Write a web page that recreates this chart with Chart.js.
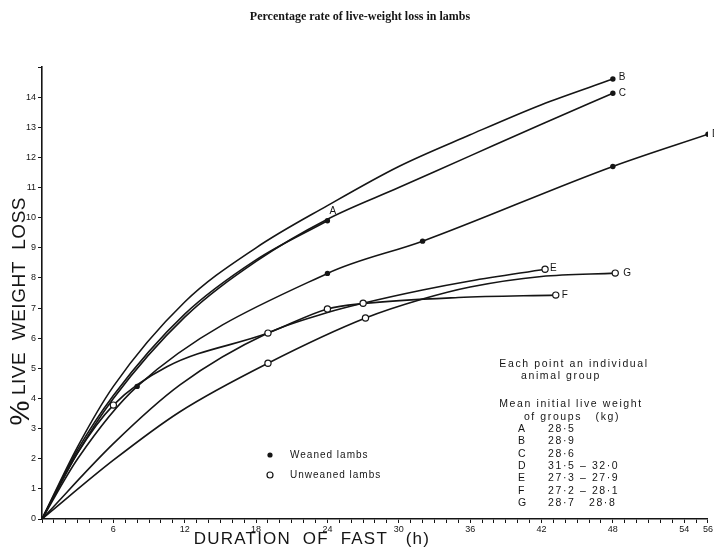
<!DOCTYPE html>
<html><head><meta charset="utf-8">
<script src="https://cdn.jsdelivr.net/npm/chart.js@4/dist/chart.umd.min.js"></script>
<style>html,body{margin:0;padding:0;background:#fff;}#wrap{width:714px;height:548px;}</style>
</head><body><div id="wrap"><canvas id="c" width="714" height="548"></canvas></div>
<script>
// ---- data (hours of fast, % live-weight loss) ----
const titleText = 'Percentage rate of live-weight loss in lambs';
const xTitle = 'DURATION  OF  FAST   (h)';
const yTitle = 'LIVE  WEIGHT  LOSS';
const xTickLabels = [6,12,18,24,30,36,42,48,54,56];
const yTickLabels = [0,1,2,3,4,5,6,7,8,9,10,11,12,13,14];
const groups = ['A','B','C','D','E','F','G'];

// fitted curves
const curveA = [[0,0],[3,2.3],[6,4.1],[12,6.8],[18,8.6],[24,9.9]];
const curveB = [[0,0],[3,2.4],[6,4.4],[12,7.2],[18,9.0],[24,10.4],[30,11.7],[36,12.75],[42,13.75],[48,14.6]];
const curveC = [[0,0],[3,2.2],[6,4.0],[12,6.7],[18,8.55],[24,9.95],[30,11.0],[36,12.05],[42,13.1],[48,14.13]];
const curveD = [[0,0],[3,2.0],[8,4.4],[24,8.15],[32,9.22],[48,11.7],[56,12.77]];
const curveE = [[0,0],[6,2.5],[11.6,4.45],[19,6.17],[24,6.85],[27,7.16],[32,7.6],[36,7.9],[42.3,8.29]];
const curveF = [[0,0],[3,2.2],[6,3.78],[10.5,5.05],[19,6.17],[24,6.97],[27,7.15],[35,7.35],[43.2,7.43]];
const curveG = [[0,0],[6,1.95],[11.6,3.56],[19,5.17],[27.2,6.67],[32,7.3],[36,7.7],[42,8.05],[48.2,8.16]];

// observed points
const weanedPoints = [[24,9.9],[48,14.6],[48,14.13],[8,4.4],[24,8.15],[32,9.22],[48,11.7],[56,12.77]];
const unweanedPoints = [[6,3.78],[19,6.17],[19,5.17],[24,6.97],[27,7.16],[27.2,6.67],[42.3,8.29],[43.2,7.43],[48.2,8.16]];
// where each group letter is attached (curve end points)
const groupEnds = [[24,9.9],[48,14.6],[48,14.13],[56,12.77],[42.3,8.29],[43.2,7.43],[48.2,8.16]];

const weightRows = ['28·5','28·9','28·6','31·5 – 32·0','27·3 – 27·9','27·2 – 28·1','28·7   28·8'];
const noteLines = ['Each point an individual','animal group','Mean initial live weight','of groups   (kg)'];
const legendLabels = ['Weaned lambs','Unweaned lambs'];

// ---- chart ----
const INK = '#151515';
const toXY = arr => arr.map(p => ({x:p[0], y:p[1]}));
const curves = [curveA,curveB,curveC,curveD,curveE,curveF,curveG];
const letterOffsets = [[2,-9],[6,-2],[6,0],[4,0],[5,-1],[6,0],[8,0]];

const datasets = [
  {data: toXY(weanedPoints), showLine:false, pointRadius:2.7, pointBackgroundColor:INK, pointBorderColor:INK, pointBorderWidth:0, order:0},
  {data: toXY(unweanedPoints), showLine:false, pointRadius:3.1, pointBackgroundColor:'#fff', pointBorderColor:INK, pointBorderWidth:1.2, order:0}
];
curves.forEach(c => datasets.push({data: toXY(c), borderColor:INK, borderWidth:1.6, pointRadius:0, fill:false, cubicInterpolationMode:'monotone', order:1}));

const textPlugin = {
  id:'texts',
  afterDraw(chart){
    const ctx = chart.ctx, xs = chart.scales.x, ys = chart.scales.y;
    ctx.save();
    ctx.fillStyle = INK; ctx.strokeStyle = INK;
    // title
    ctx.font = 'bold 12px "Liberation Serif"';
    ctx.textAlign = 'center'; ctx.textBaseline = 'middle';
    ctx.fillText(titleText, 360, 17);
    // x title
    ctx.font = '17px "Liberation Sans"';
    ctx.letterSpacing = '1.2px';
    ctx.fillText(xTitle, 312, 539);
    // y title (rotated)
    ctx.letterSpacing = '0.5px';
    ctx.save();
    ctx.translate(20, 296); ctx.rotate(-Math.PI/2);
    ctx.font = '19px "Liberation Sans"';
    ctx.fillText(yTitle, 0, 0);
    ctx.restore();
    ctx.save();
    ctx.translate(21, 413); ctx.rotate(-Math.PI/2);
    ctx.letterSpacing = '0px';
    ctx.font = '28px "Liberation Sans"';
    ctx.fillText('%', 0, 0);
    ctx.restore();
    // group letters
    ctx.letterSpacing = '0px';
    ctx.font = '10px "Liberation Sans"';
    ctx.textAlign = 'left';
    groups.forEach((g,i) => {
      const px = xs.getPixelForValue(groupEnds[i][0]) + letterOffsets[i][0];
      const py = ys.getPixelForValue(groupEnds[i][1]) + letterOffsets[i][1];
      ctx.fillText(g, px, py);
    });
    // notes
    ctx.font = '10.5px "Liberation Sans"';
    ctx.letterSpacing = '1.6px';
    ctx.textAlign = 'center';
    const noteY = [364, 376, 404, 417];
    const noteX = [574, 561, 571, 572];
    noteLines.forEach((t,i) => ctx.fillText(t, noteX[i], noteY[i]));
    ctx.textAlign = 'left';
    groups.forEach((g,i) => {
      const y = 429 + i*12.4;
      ctx.fillText(g, 518, y);
      ctx.fillText(weightRows[i], 548, y);
    });
    // legend
    ctx.font = '10px "Liberation Sans"';
    ctx.letterSpacing = '1px';
    ctx.beginPath(); ctx.arc(270, 455, 2.6, 0, Math.PI*2); ctx.fill();
    ctx.fillText(legendLabels[0], 290, 455);
    ctx.beginPath(); ctx.arc(270, 475, 3, 0, Math.PI*2);
    ctx.fillStyle = '#fff'; ctx.fill(); ctx.lineWidth = 1.2; ctx.stroke();
    ctx.fillStyle = INK;
    ctx.fillText(legendLabels[1], 290, 475);
    ctx.restore();
  }
};

new Chart(document.getElementById('c'), {
  type:'line',
  data:{datasets},
  options:{
    responsive:false, animation:false, devicePixelRatio:1,
    layout:{padding:{top:67, right:6, left:0, bottom:0}},
    plugins:{legend:{display:false}, tooltip:{enabled:false}},
    scales:{
      x:{type:'linear', min:0, max:56,
        afterFit: s => { s.height = 29; },
        border:{display:true, color:INK, width:1.6},
        grid:{drawOnChartArea:false, drawTicks:true, tickLength:4, color:INK, lineWidth:1},
        ticks:{stepSize:1, autoSkip:false, maxRotation:0, padding:1, color:INK,
          font:{family:'Liberation Sans', size:9},
          callback: v => xTickLabels.includes(v) ? String(v) : ''}
      },
      y:{type:'linear', min:0, max:15,
        afterFit: s => { s.width = 42; },
        border:{display:true, color:INK, width:1.6},
        grid:{drawOnChartArea:false, drawTicks:true, tickLength:4, color:INK, lineWidth:1},
        ticks:{stepSize:1, autoSkip:false, padding:2, color:INK,
          font:{family:'Liberation Sans', size:9},
          callback: v => yTickLabels.includes(v) ? String(v) : ''}
      }
    }
  },
  plugins:[textPlugin]
});
</script></body></html>
